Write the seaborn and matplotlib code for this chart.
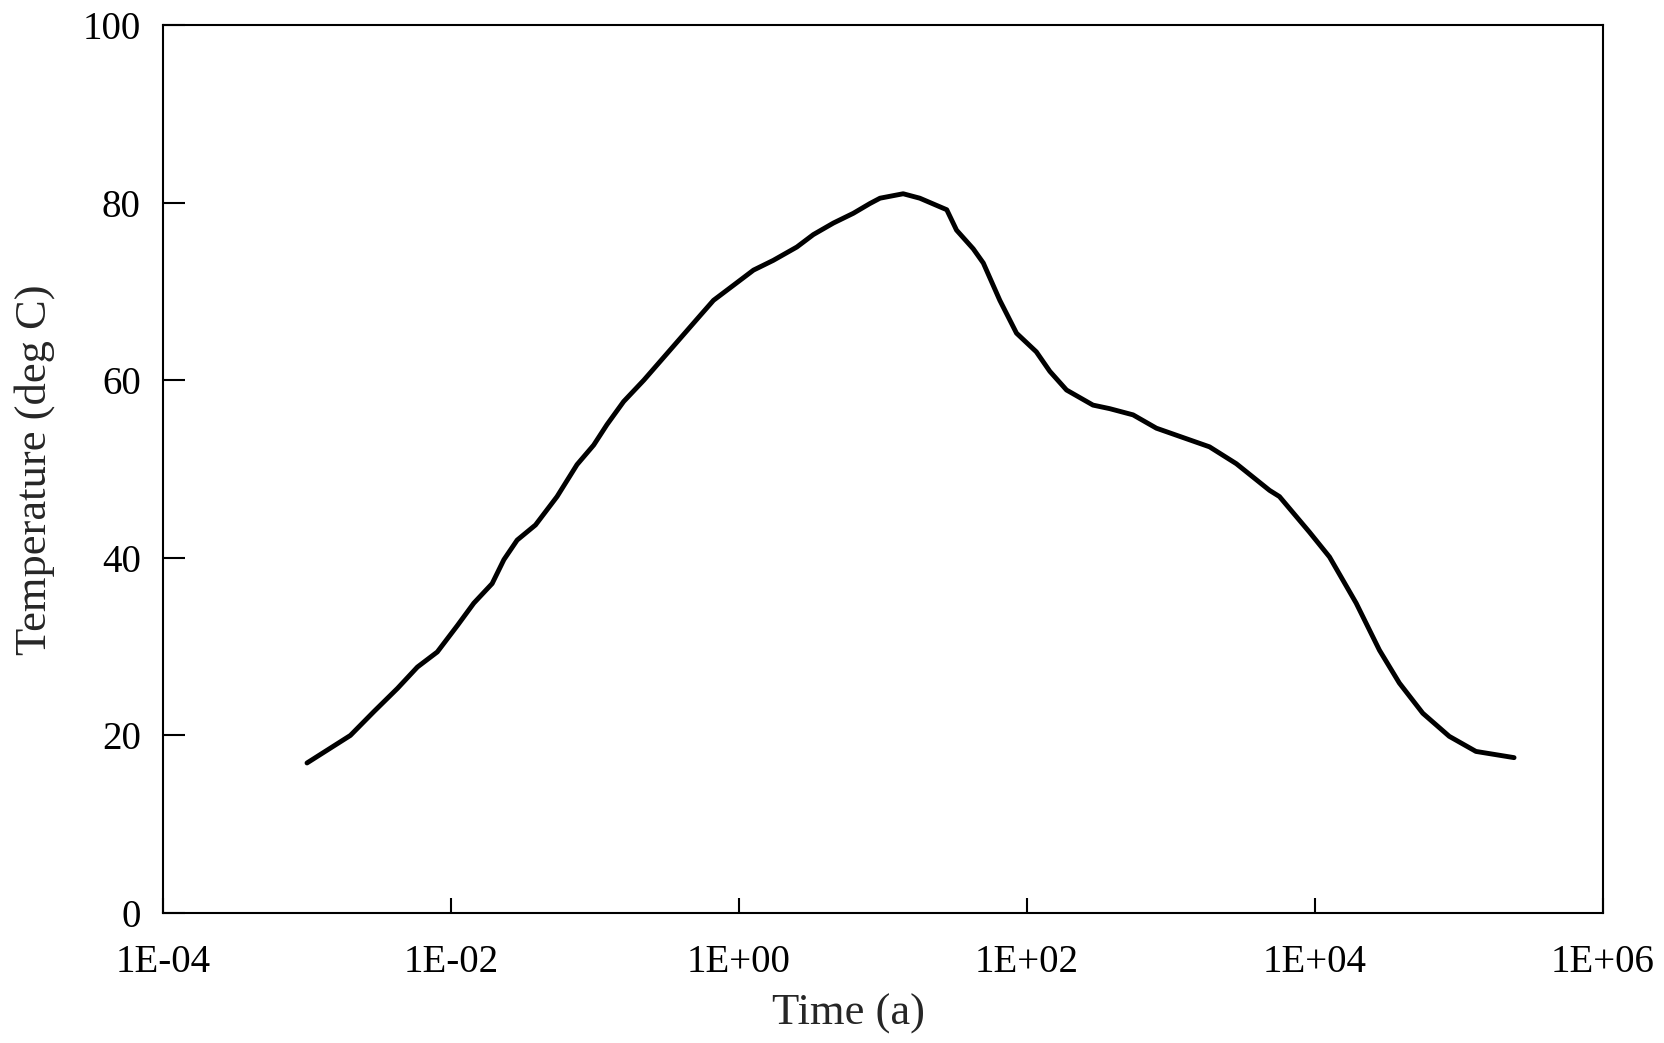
import pandas as pd
import seaborn as sns
import matplotlib.pyplot as plt
from matplotlib.ticker import FixedLocator, NullLocator

# valores (tempo em anos, temperatura em graus C)
tempo = [1.0e-3, 2.0e-3, 2.92e-3, 4.25e-3, 5.84e-3, 8.03e-3, 1.11e-2, 1.44e-2,
         1.93e-2, 2.33e-2, 2.88e-2, 3.86e-2, 5.45e-2, 7.50e-2, 9.79e-2, 0.121,
         0.158, 0.218, 0.538, 0.665, 0.916, 1.26, 1.73, 2.52, 3.28, 4.52, 6.22,
         8.11, 9.53, 13.8, 18.0, 27.7, 32.4, 42.3, 49.7, 64.7, 84.5, 116, 144,
         188, 287, 375, 545, 791, 1850, 2840, 4830, 5660, 9140, 12600, 19300,
         28000, 38500, 56000, 85500, 131000, 241000]
temperatura = [16.9, 20.0, 22.7, 25.3, 27.7, 29.4, 32.4, 34.9, 37.1, 39.8, 42.0,
               43.7, 46.9, 50.5, 52.7, 55.0, 57.6, 60.0, 67.3, 69.0, 70.7, 72.4,
               73.5, 75.0, 76.4, 77.7, 78.8, 79.9, 80.5, 81.0, 80.5, 79.2, 76.9,
               74.8, 73.2, 69.0, 65.3, 63.2, 61.0, 58.9, 57.2, 56.8, 56.1, 54.6,
               52.5, 50.6, 47.6, 46.9, 42.9, 40.1, 34.9, 29.6, 25.9, 22.5, 19.9,
               18.2, 17.5]

x_ticks = [1e-4, 1e-2, 1e0, 1e2, 1e4, 1e6]
x_labels = ["1E-04", "1E-02", "1E+00", "1E+02", "1E+04", "1E+06"]
y_ticks = [0, 20, 40, 60, 80, 100]

tabela = pd.DataFrame({"Tempo": tempo, "Temperatura": temperatura})

sns.set_style("ticks")
plt.rcParams["font.family"] = ["Liberation Serif", "DejaVu Serif"]

fig = plt.figure(figsize=(16.65, 10.43), dpi=100)
ax = fig.add_axes([0.0979, 0.1246, 0.8649, 0.8514])

sns.lineplot(data=tabela, x="Tempo", y="Temperatura", color="black",
             linewidth=3.5, ax=ax)

ax.set_xscale("log")
ax.set_xlim(1e-4, 1e6)
ax.set_ylim(0, 100)
ax.xaxis.set_major_locator(FixedLocator(x_ticks))
ax.xaxis.set_minor_locator(NullLocator())
ax.set_xticklabels(x_labels)
ax.set_yticks(y_ticks)
ax.set_yticklabels([str(v) for v in y_ticks])

for lado in ["top", "right", "left", "bottom"]:
    ax.spines[lado].set_visible(True)
    ax.spines[lado].set_linewidth(1.5)
    ax.spines[lado].set_color("black")

ax.tick_params(axis="y", direction="in", length=16, width=1.5, pad=16,
               labelsize=28, colors="black")
ax.tick_params(axis="x", direction="in", length=11, width=1.5, pad=22,
               labelsize=28, colors="black")

ax.set_xlabel("Time (a)", fontsize=32)
ax.set_ylabel("Temperature (deg C)", fontsize=32)
ax.xaxis.set_label_coords(0.476, -0.091)
ax.yaxis.set_label_coords(-0.075, 0.499)

fig.savefig("out.png", dpi=100, facecolor="white")
